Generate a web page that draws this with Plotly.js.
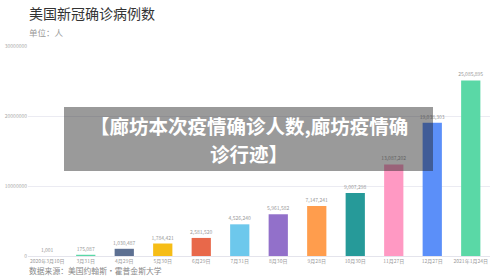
<!DOCTYPE html>
<html>
<head>
<meta charset="utf-8">
<script src="https://cdn.plot.ly/plotly-3.0.1.min.js"></script>
<style>html,body{margin:0;padding:0;background:#fff;}#chart{width:500px;height:279px;}</style>
</head>
<body>
<div id="chart"></div>
<script>
const dates = ["2020年3月10日","3月31日","4月29日","5月30日","6月29日","7月31日","8月30日","9月28日","10月30日","11月27日","12月27日","2021年1月24日"];
const cases = [1001, 175087, 1030487, 1784421, 2581520, 4526240, 5961582, 7147241, 9007298, 13087202, 19038303, 25085895];
const colors = ["#5B8FF9","#5AD8A6","#5D7092","#F6BD16","#E8684A","#6DC8EC","#9270CA","#FF9D4D","#269A99","#FF99C3","#5B8FF9","#5AD8A6"];
const titleText = "美国新冠确诊病例数";
const unitText = "单位：人";
const sourceText = "数据来源：美国约翰斯·霍普金斯大学";
const overlayLines = ["【廊坊本次疫情确诊人数,廊坊疫情确", "诊行迹】"];

const F = "'Noto Sans CJK SC', 'Noto Sans', sans-serif";
const L = 28, R = 10, T = 46, B = 23, W = 500, H = 279;
const pw = W - L - R, ph = H - T - B;
const px = x => (x - L) / pw;
const py = y => (H - B - y) / ph;

const trace = {
  type: 'bar',
  x: dates,
  y: cases,
  marker: {color: colors},
  width: 0.5,
  text: cases.map(v => v.toLocaleString('en-US')),
  textposition: 'outside',
  textfont: {family: F, size: 5, color: '#999'},
  constraintext: 'none',
  cliponaxis: false,
  hoverinfo: 'none'
};

const layout = {
  width: W, height: H,
  margin: {l: L, r: R, t: T, b: B, pad: 0},
  paper_bgcolor: '#fff', plot_bgcolor: '#fff',
  showlegend: false,
  bargap: 0.5,
  font: {family: F},
  xaxis: {
    type: 'category',
    tickfont: {family: F, size: 5, color: '#999'},
    showgrid: false, zeroline: false,
    showline: true, linecolor: '#e4e4ec', linewidth: 1,
    ticks: '', tickangle: 0, automargin: false
  },
  yaxis: {
    range: [0, 30000000],
    dtick: 10000000, tick0: 0,
    tickformat: 'd',
    tickfont: {family: F, size: 5, color: '#aaa'},
    gridcolor: '#ebebf2', gridwidth: 1,
    zeroline: false, showline: false, ticks: '', automargin: false
  },
  shapes: [{
    type: 'rect', xref: 'paper', yref: 'paper',
    x0: px(64), x1: px(433), y0: py(171), y1: py(107),
    fillcolor: 'rgba(30,30,30,0.45)', line: {width: 0}, layer: 'above'
  }],
  annotations: [
    {text: titleText, xref: 'paper', yref: 'paper', x: px(27), y: py(13), xanchor: 'left', yanchor: 'middle', showarrow: false, font: {family: F, size: 14, color: '#333'}},
    {text: unitText, xref: 'paper', yref: 'paper', x: px(27), y: py(32), xanchor: 'left', yanchor: 'middle', showarrow: false, font: {family: F, size: 8.5, color: '#999'}},
    {text: sourceText, xref: 'paper', yref: 'paper', x: px(27), y: py(270), xanchor: 'left', yanchor: 'middle', showarrow: false, font: {family: F, size: 7.8, color: '#888'}},
    {text: '<b>' + overlayLines[0] + '</b>', xref: 'paper', yref: 'paper', x: px(249), y: py(125), xanchor: 'center', yanchor: 'middle', showarrow: false, borderpad: 0, font: {family: F, size: 19.5, color: '#fff'}},
    {text: '<b>' + overlayLines[1] + '</b>', xref: 'paper', yref: 'paper', x: px(249), y: py(153), xanchor: 'center', yanchor: 'middle', showarrow: false, borderpad: 0, font: {family: F, size: 19.5, color: '#fff'}}
  ]
};

Plotly.newPlot('chart', [trace], layout, {displayModeBar: false, staticPlot: true});
</script>
</body>
</html>
